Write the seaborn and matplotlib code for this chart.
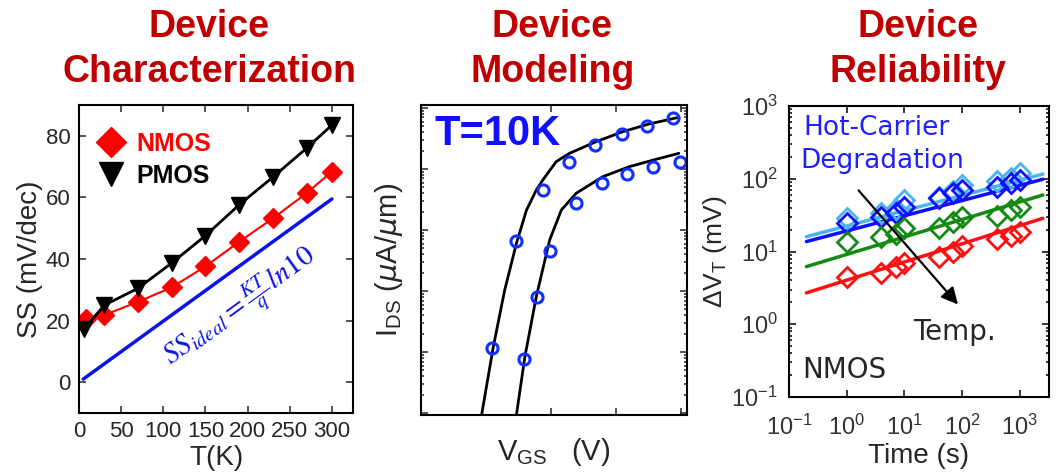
import matplotlib
matplotlib.use('Agg')
import matplotlib.pyplot as plt
from matplotlib.lines import Line2D
from matplotlib.ticker import LogLocator, NullFormatter
import seaborn as sns

# ---- Device Characterization: subthreshold swing vs T
temp_nmos = [8, 30, 70, 110, 150, 190, 230, 270, 300]
ss_nmos = [20.5, 21.8, 26.1, 30.8, 37.6, 45.6, 53.2, 61.4, 68.4]
temp_pmos = [6, 30, 70, 110, 150, 190, 230, 270, 300]
ss_pmos = [17.2, 25.0, 30.5, 38.7, 47.6, 57.6, 66.6, 76.0, 83.5]
temp_ideal = [5, 300]
ss_ideal = [1.0, 59.5]

# ---- Device Modeling: Id-Vg at 10K (no tick labels in the original)
vgs_fit1 = [0.186, 0.222, 0.257, 0.293, 0.324, 0.354, 0.374, 0.415, 0.456, 0.537, 0.619, 0.700, 0.792]
ids_fit1 = [9.3e-6, 1.22e-4, 1.04e-3, 6.05e-3, 2.13e-2, 4.53e-2, 6.61e-2, 0.132, 0.181, 0.280, 0.408, 0.547, 0.705]
vgs_meas1 = [0.217, 0.293, 0.374, 0.454, 0.535, 0.616, 0.695, 0.773]
ids_meas1 = [1.15e-4, 6.68e-3, 4.53e-2, 0.132, 0.247, 0.375, 0.513, 0.678]
vgs_fit2 = [0.293, 0.319, 0.354, 0.395, 0.431, 0.476, 0.558, 0.639, 0.721, 0.792]
ids_fit2 = [9.3e-6, 8.38e-5, 8.07e-4, 6.85e-3, 2.13e-2, 3.99e-2, 7.48e-2, 0.109, 0.144, 0.181]
vgs_meas2 = [0.315, 0.357, 0.395, 0.476, 0.556, 0.634, 0.713, 0.794]
ids_meas2 = [7.59e-5, 8.07e-4, 4.53e-3, 2.74e-2, 5.82e-2, 8.28e-2, 0.107, 0.129]

# ---- Device Reliability: HCD threshold shift vs stress time
time_s = [1, 4, 7, 10, 40, 70, 100, 400, 700, 1000]
dvt_red = [4.5, 5.0, 6.1, 7.0, 8.5, 10.0, 11.9, 14.8, 16.4, 18.8]
dvt_green = [13.7, 16.0, 17.5, 20.9, 20.9, 25.8, 29.6, 30.8, 37.3, 41.4]
dvt_blue = [24.5, 30.2, 33.6, 41.4, 54.0, 63.2, 70.2, 77.9, 86.7, 96.4]
dvt_lblue = [28.6, 33.6, 38.1, 51.2, 56.8, 68.7, 82.2, 94.2, 101.6, 121.0]
time_fit = [0.2, 2500]
fit_red = [2.7, 28.6]
fit_green = [6.2, 59.8]
fit_blue = [13.7, 98.4]
fit_lblue = [16.0, 116.0]

TITLE_RED = '#C00000'

sns.set_style('ticks')
plt.rcParams['font.family'] = ['Liberation Sans', 'DejaVu Sans']
plt.rcParams['axes.linewidth'] = 1.5

fig = plt.figure(figsize=(10.56, 4.75), dpi=100)
ax1 = fig.add_axes([0.0748, 0.1305, 0.2595, 0.6484])
ax2 = fig.add_axes([0.3987, 0.1263, 0.2519, 0.6526])
ax3 = fig.add_axes([0.7472, 0.1642, 0.2462, 0.6126])

for ax in (ax1, ax2, ax3):
    for s in ax.spines.values():
        s.set_color('black')
        s.set_linewidth(1.5)
    ax.tick_params(direction='in', top=True, right=True, which='both', width=1.1)
    ax.tick_params(which='major', length=5)
    ax.tick_params(which='minor', length=2.5)

# titles
titles = [('Device', 'Characterization', 0.198), ('Device', 'Modeling', 0.523), ('Device', 'Reliability', 0.869)]
for l1, l2, xc in titles:
    fig.text(xc, 1 - 37 / 475, l1, ha='center', va='baseline', fontsize=27,
             fontweight='bold', color=TITLE_RED)
    fig.text(xc, 1 - 82 / 475, l2, ha='center', va='baseline', fontsize=27,
             fontweight='bold', color=TITLE_RED)

# panel 1
sns.lineplot(x=temp_nmos, y=ss_nmos, ax=ax1, color='red', lw=1.5, marker='D',
             ms=10, mec='red', mew=1)
sns.lineplot(x=temp_pmos, y=ss_pmos, ax=ax1, color='black', lw=2, marker='v',
             ms=12, mec='black', mew=1)
sns.lineplot(x=temp_ideal, y=ss_ideal, ax=ax1, color='#0a14e6', lw=2.5)
ax1.set_xlim(0, 325)
ax1.set_ylim(-10, 90)
ax1.set_xticks(range(0, 301, 50))
ax1.set_yticks(range(0, 81, 20))
ax1.tick_params(labelsize=16, pad=6)
ax1.set_xlabel('T(K)', fontsize=20, labelpad=2)
ax1.set_ylabel('SS (mV/dec)', fontsize=20, labelpad=2)
ax1.text(192, 24.0, r'$SS_{ideal}=\frac{KT}{q}ln10$', color='#0a14e6', fontsize=21,
         rotation=36, ha='center', va='center', math_fontfamily='stix')
handles = [Line2D([], [], color='red', marker='D', ls='none', ms=15),
           Line2D([], [], color='black', marker='v', ls='none', ms=17)]
ax1.legend(handles, ['NMOS', 'PMOS'], loc='upper left', bbox_to_anchor=(-0.01, 0.985),
           frameon=False, handlelength=1.0, handletextpad=0.5, labelspacing=0.3,
           prop={'weight': 'bold', 'size': 18}, labelcolor=['red', 'black'])

# panel 2
ax2.set_yscale('log')
for vx, iy in ((vgs_fit1, ids_fit1), (vgs_fit2, ids_fit2)):
    sns.lineplot(x=vx, y=iy, ax=ax2, color='black', lw=2)
for vx, iy in ((vgs_meas1, ids_meas1), (vgs_meas2, ids_meas2)):
    sns.lineplot(x=vx, y=iy, ax=ax2, color='#1030ff', ls='', marker='o', ms=8,
                 mfc='none', mec='#1030ff', mew=2.2)
ax2.set_xlim(0, 0.817)
ax2.set_ylim(9.3e-6, 1.12)
ax2.set_xticks([0.4, 0.6, 0.8])
ax2.yaxis.set_major_locator(LogLocator(base=10, numticks=10))
ax2.yaxis.set_minor_locator(LogLocator(base=10, subs=range(2, 10), numticks=20))
ax2.yaxis.set_minor_formatter(NullFormatter())
ax2.tick_params(labelleft=False, labelbottom=False)
ax2.set_xlabel(r'V$_{\mathregular{GS}}$   (V)', fontsize=21, labelpad=15)
ax2.set_ylabel(r'I$_{\mathregular{DS}}$ ($\mu$A/$\mu$m)', fontsize=21, labelpad=8)
ax2.text(0.05, 0.871, 'T=10K', transform=ax2.transAxes, color='#1010ff',
         fontsize=30, fontweight='bold', va='baseline')

# panel 3
ax3.set_xscale('log')
ax3.set_yscale('log')
series = [(dvt_lblue, fit_lblue, '#4ab4f0'), (dvt_blue, fit_blue, '#1010ff'),
          (dvt_green, fit_green, '#138a13'), (dvt_red, fit_red, '#ff1010')]
for pts, fit, c in series:
    sns.lineplot(x=time_fit, y=fit, ax=ax3, color=c, lw=2.5)
for pts, fit, c in series:
    sns.lineplot(x=time_s, y=pts, ax=ax3, color=c, ls='', marker='D', ms=10,
                 mfc='none', mec=c, mew=2)
ax3.set_xlim(0.1, 3200)
ax3.set_ylim(0.1, 1000)
ax3.xaxis.set_major_locator(LogLocator(base=10, numticks=10))
ax3.yaxis.set_major_locator(LogLocator(base=10, numticks=10))
ax3.xaxis.set_minor_formatter(NullFormatter())
ax3.yaxis.set_minor_formatter(NullFormatter())
ax3.tick_params(labelsize=17, colors='#333333')
ax3.tick_params(axis='x', pad=13)
ax3.tick_params(axis='y', pad=8)
ax3.tick_params(which='both', color='black')
ax3.set_xlabel('Time (s)', fontsize=20, labelpad=2)
ax3.set_ylabel(r'ΔV$_\mathregular{T}$ (mV)', fontsize=19, labelpad=2)
ax3.text(0.054, 0.900, 'Hot-Carrier', transform=ax3.transAxes, color='#1f1fff',
         fontsize=19, family='DejaVu Sans', va='baseline')
ax3.text(0.042, 0.787, 'Degradation', transform=ax3.transAxes, color='#1f1fff',
         fontsize=19, family='DejaVu Sans', va='baseline')
ax3.annotate('', xy=(91, 1.75), xytext=(1.49, 74),
             arrowprops=dict(arrowstyle='-|>', color='black', lw=1.6, mutation_scale=25))
ax3.text(0.477, 0.196, 'Temp.', transform=ax3.transAxes, fontsize=20,
         family='DejaVu Sans', va='baseline')
ax3.text(0.05, 0.065, 'NMOS', transform=ax3.transAxes, fontsize=20,
         family='DejaVu Sans', va='baseline')

fig.savefig('out.png', dpi=100)
